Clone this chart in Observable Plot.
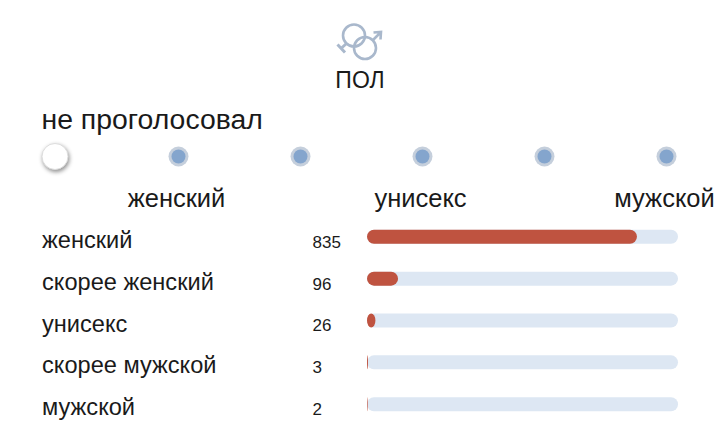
<!DOCTYPE html>
<html lang="ru">
<head>
<meta charset="utf-8">
<script src="https://cdn.jsdelivr.net/npm/d3@7"></script>
<script src="https://cdn.jsdelivr.net/npm/@observablehq/plot@0.6"></script>
<style>
  body { margin: 0; background: #fff; width: 720px; font-family: "Liberation Sans", sans-serif; color: #1a1a1a; overflow: hidden; }
  #head { position: relative; height: 135px; }
  #head svg { position: absolute; left: 335px; top: 20px; }
  #title { position: absolute; left: 0; width: 720px; top: 67px; text-align: center; font-size: 23px; line-height: 26px; }
  #vote { position: absolute; left: 41.5px; top: 102.5px; font-size: 28.4px; line-height: 32px; }
  #slider svg, #rows svg { display: block; }
  .knob circle { filter: drop-shadow(1px 2px 2px rgba(0,0,0,.45)); }
</style>
</head>
<body>
<div id="head">
  <svg width="50" height="48" viewBox="0 0 50 48" fill="none" stroke="#a9b8cc" stroke-width="2.6">
    <circle cx="19" cy="15.5" r="11"/>
    <circle cx="30" cy="28" r="11"/>
    <path d="M38 20 L45 13 M38.5 12.5 L46 12 L45.5 19.5"/>
    <path d="M11.5 23.5 L6 28.5 M2.5 24.5 L10 32.5" stroke-width="3"/>
  </svg>
  <div id="title">ПОЛ</div>
  <div id="vote">не проголосовал</div>
</div>
<div id="slider"></div>
<div id="rows"></div>
<script>
// шкала голосования
const steps = [1, 2, 3, 4, 5, 6];
const selectedStep = [1];
const scaleSteps = [2, 4, 6];
const scaleNames = ["женский", "унисекс", "мужской"];

// результаты голосования
const categories = ["женский", "скорее женский", "унисекс", "скорее мужской", "мужской"];
const votes = [835, 96, 26, 3, 2];
const totalVotes = 962;

const font = "Liberation Sans, sans-serif";
const rows = categories.map((name, i) => ({name, count: votes[i]}));

const slider = Plot.plot({
  width: 720,
  height: 81,
  margin: 0,
  marginLeft: 55,
  marginRight: 53,
  style: {fontFamily: font, background: "transparent"},
  x: {type: "point", domain: steps, padding: 0, axis: null},
  y: {domain: [0, 1], range: [0, 81], axis: null},
  marks: [
    Plot.dot(steps.slice(1), {x: d => d, frameAnchor: "top", dy: 21, r: 10, fill: "#c5cfdc"}),
    Plot.dot(steps.slice(1), {x: d => d, frameAnchor: "top", dy: 21, r: 7, fill: "#84a5cd"}),
    Plot.dot(selectedStep, {x: d => d, dx: -1.5, frameAnchor: "top", dy: 21, r: 13, fill: "#fff", stroke: "#dcdcdc", strokeWidth: 1, className: "knob"}),
    Plot.text(scaleSteps, {x: d => d, text: (d, i) => scaleNames[i], frameAnchor: "top", dx: -2, dy: 63, fontSize: 25.5, fill: "#1a1a1a", lineAnchor: "middle"})
  ]
});
document.getElementById("slider").appendChild(slider);

const chart = Plot.plot({
  width: 720,
  height: 222,
  marginTop: 0,
  marginBottom: 13,
  marginLeft: 367,
  marginRight: 42,
  style: {fontFamily: font, background: "transparent"},
  x: {domain: [0, totalVotes], axis: null},
  y: {domain: categories, axis: null, round: false, paddingInner: 0.665, paddingOuter: 0.33},
  marks: [
    Plot.barX(rows, {x1: 0, x2: totalVotes, y: "name", fill: "#dde7f3", rx: 7}),
    Plot.barX(rows, {x: "count", y: "name", fill: "#bf5340", rx: 7}),
    Plot.text(rows, {x: 0, y: "name", text: "name", textAnchor: "start", dx: -325.5, dy: 3, fontSize: 23.6, fill: "#1a1a1a"}),
    Plot.text(rows, {x: 0, y: "name", text: "count", textAnchor: "start", dx: -55, dy: 5, fontSize: 17, fill: "#1a1a1a"})
  ]
});
document.getElementById("rows").appendChild(chart);
</script>
</body>
</html>
